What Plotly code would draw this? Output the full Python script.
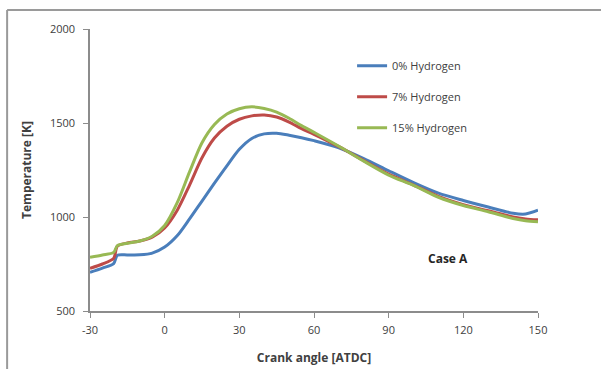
import plotly.graph_objects as go

crank_angle = [-30, -25, -20.5, -19, -15, -10, -5, 0, 5, 10, 15, 20, 25, 30, 35, 40, 45,
               50, 55, 60, 70, 80, 90, 100, 110, 120, 130, 140, 145, 150]
temp_h0 = [706, 728, 752, 796, 798, 799, 808, 840, 900, 990, 1085, 1180, 1272, 1360, 1418, 1442, 1445,
           1435, 1422, 1406, 1368, 1311, 1246, 1183, 1127, 1088, 1053, 1020, 1016, 1036]
temp_h7 = [727, 750, 780, 845, 862, 872, 893, 942, 1035, 1170, 1315, 1420, 1483, 1520, 1538, 1543, 1532,
           1505, 1470, 1440, 1374, 1300, 1228, 1170, 1110, 1066, 1033, 1000, 990, 985]
temp_h15 = [786, 798, 812, 848, 860, 872, 898, 955, 1075, 1240, 1395, 1492, 1548, 1576, 1586, 1577, 1558,
            1525, 1486, 1450, 1376, 1297, 1223, 1168, 1105, 1061, 1028, 992, 980, 975]

x_ticks = [-30, 0, 30, 60, 90, 120, 150]
x_tick_text = ["-30", "0", "30", "60", "90", "120", "150"]
y_ticks = [500, 1000, 1500, 2000]

series = [
    ("0% Hydrogen", temp_h0, "#4a7ebb"),
    ("7% Hydrogen", temp_h7, "#be4b48"),
    ("15% Hydrogen", temp_h15, "#98b954"),
]

fig = go.Figure()
for i, (name, vals, col) in enumerate(series):
    fig.add_trace(go.Scatter(x=crank_angle, y=vals, mode="lines", name=name,
                             legendgroup=f"g{i}",
                             line=dict(color=col, width=3, shape="spline", smoothing=0.8)))

font_family = "Open Sans, Liberation Sans, sans-serif"
axis_common = dict(showgrid=False, zeroline=False, showline=True, linecolor="#8c8c8c", linewidth=1.5,
                   ticks="outside", ticklen=5, tickcolor="#8c8c8c", automargin=False,
                   tickfont=dict(size=11, color="#404040", family=font_family))

fig.update_layout(
    width=601, height=369,
    margin=dict(l=90, r=63, t=29, b=58),
    paper_bgcolor="white", plot_bgcolor="white",
    font=dict(family=font_family, color="#404040"),
    xaxis=dict(range=[-30, 150], tickvals=x_ticks, ticktext=x_tick_text, ticklabelstandoff=3, **axis_common,
               title=dict(text="<b>Crank angle [ATDC]</b>", font=dict(size=12, color="#404040"), standoff=18)),
    yaxis=dict(range=[500, 2000], tickvals=y_ticks, ticklabelstandoff=6, **axis_common,
               title=dict(text="<b>Temperature [K]</b>", font=dict(size=12, color="#404040"), standoff=16)),
    legend=dict(x=0.585, y=0.921, xanchor="left", yanchor="top", bgcolor="rgba(0,0,0,0)",
                font=dict(size=11, color="#404040", family=font_family),
                tracegroupgap=12, itemwidth=30),
    showlegend=True,
)

fig.add_annotation(x=113.8, y=778, text="<b>Case A</b>", showarrow=False, xref="x", yref="y",
                   font=dict(size=12, color="#262626", family=font_family))

# outer chart-area border (left and top edges visible)
fig.add_shape(type="line", xref="paper", yref="paper", x0=-0.185, x1=-0.185, y0=-0.3, y1=1.067,
              line=dict(color="#9a9a9a", width=2))
fig.add_shape(type="line", xref="paper", yref="paper", x0=-0.185, x1=1.2, y0=1.067, y1=1.067,
              line=dict(color="#9a9a9a", width=2))

fig.write_html("out.html")
